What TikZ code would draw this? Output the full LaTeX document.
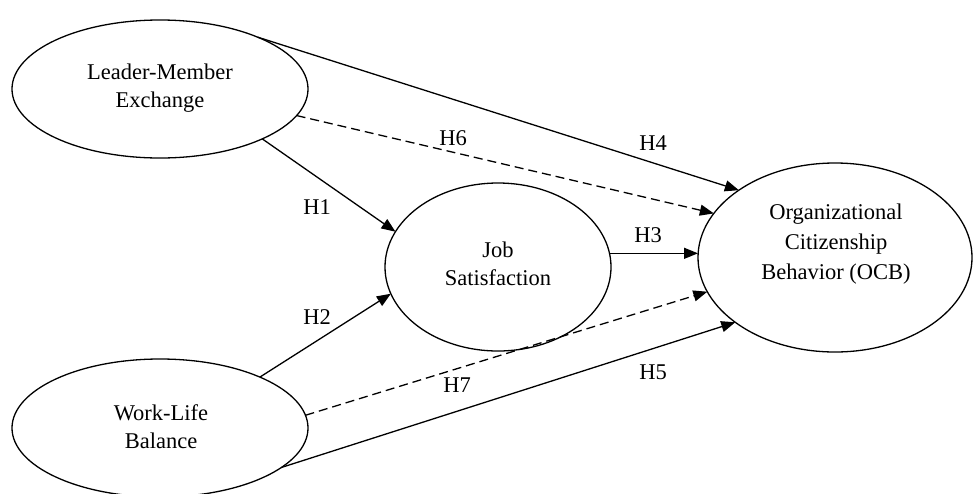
\documentclass[tikz,border=0pt]{standalone}
\usepackage{fontspec}
\setmainfont{Liberation Serif}
\usetikzlibrary{shapes.geometric,arrows.meta}
\begin{document}
\begin{tikzpicture}[x=1pt,y=-1pt,
  oval/.style={draw,ellipse,line width=1.3pt,inner sep=0pt,outer sep=0pt},
  lbl/.style={inner sep=0pt,outer sep=0pt,font=\fontsize{22.5}{28}\selectfont,align=center},
  hyp/.style={inner sep=0pt,outer sep=0pt,font=\fontsize{22.5}{28}\selectfont},
  link/.style={line width=1.3pt,-{Triangle[length=14pt,width=11pt]}},
  dlink/.style={link,dash pattern=on 9pt off 5pt}]
\useasboundingbox[fill=white] (0,0) rectangle (973,493);
% ellipses
\node[oval,minimum width=296pt,minimum height=138pt] (lmx) at (160,89) {};
\node[oval,minimum width=296pt,minimum height=138pt] (wlb) at (160,428) {};
\node[oval,minimum width=226pt,minimum height=168pt] (js) at (498,267) {};
\node[oval,minimum width=274pt,minimum height=189pt] (ocb) at (835,257.5) {};
% texts
\node[lbl] (lmxt) at (160,87.7) {Leader-Member\\Exchange};
\node[lbl] (wlbt) at (161,426.3) {Work-Life\\Balance};
\node[lbl] (jst) at (498,263.3) {Job\\Satisfaction};
\node[lbl,font=\fontsize{22.5}{30}\selectfont] (ocbt) at (836,243.8) {Organizational\\Citizenship\\Behavior (OCB)};
% connectors
\draw[link] (lmx.28) -- (ocb.145.4);
\draw[dlink] (lmx.-11.5) -- (ocb.160.1);
\draw[link] (lmx.-26.3) -- (js.161.4);
\draw[link] (wlb.27.5) -- (js.194.2);
\draw[dlink] (wlb.5) -- (ocb.195.6);
\draw[link] (wlb.-18.9) -- (ocb.213.8);
\draw[link] (js.7) -- (js.7 -| ocb.west);
% hypothesis labels
\node[hyp] (h6) at (453,138) {H6};
\node[hyp] (h4) at (653,143) {H4};
\node[hyp] (h1) at (317,207) {H1};
\node[hyp] (h3) at (648,235) {H3};
\node[hyp] (h2) at (317,317) {H2};
\node[hyp] (h7) at (457,385) {H7};
\node[hyp] (h5) at (653,372) {H5};
\end{tikzpicture}
\end{document}
